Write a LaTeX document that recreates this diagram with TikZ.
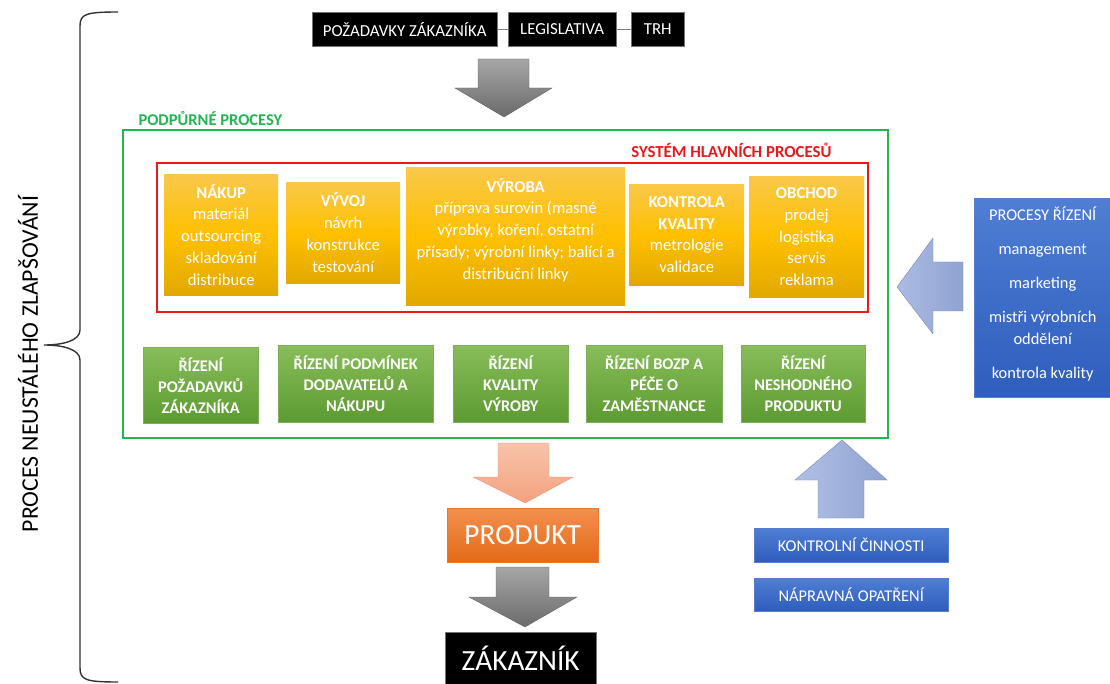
\documentclass[tikz,border=0pt]{standalone}
\usepackage{fontspec}
\setmainfont{Carlito}
\usetikzlibrary{calc}
\definecolor{yelT}{HTML}{F9C84A}
\definecolor{yelM}{HTML}{FFC000}
\definecolor{yelB}{HTML}{E2A800}
\definecolor{grnT}{HTML}{88BD59}
\definecolor{grnB}{HTML}{5C9A31}
\definecolor{bluT}{HTML}{4F7ED4}
\definecolor{bluB}{HTML}{2E5DBD}
\definecolor{orgT}{HTML}{F3904F}
\definecolor{orgB}{HTML}{E46A17}
\definecolor{frameG}{HTML}{22B550}
\definecolor{frameR}{HTML}{E8191C}
\definecolor{ltblue}{HTML}{97ABDC}
\definecolor{ltorange}{HTML}{F4AA86}
\tikzset{
	box/.style={text=white, align=center, inner sep=2pt, anchor=north west},
	ybox/.style={box, top color=yelT, bottom color=yelB, middle color=yelM, font=\fontsize{16.6}{21.8}\selectfont},
	gbox/.style={box, draw=grnB!80, top color=grnT, bottom color=grnB, font=\bfseries\fontsize{16.3}{21}\selectfont},
	bbox/.style={box, draw=bluB!80, top color=bluT, bottom color=bluB, font=\fontsize{16.4}{22}\selectfont},
	kbox/.style={box, draw=black!55, fill=black, font=\fontsize{16.8}{18}\selectfont},
}
\begin{document}
\begin{tikzpicture}[x=1pt, y=-1pt]
			%%%%% START %%%%%
			\useasboundingbox (0,0) rectangle (1110,684);
			
			\draw[line width=1.4pt, black!80] (118,12) .. controls (86,12) and (80,14) .. (80,26) -- (80,330) .. controls (80,341) and (62,345) .. (44,345) .. controls (62,345) and (80,349) .. (80,360) -- (80,668) .. controls (80,680) and (86,682) .. (118,682);
			\node[rotate=90, font=\fontsize{23.8}{26}\selectfont] (kaizen) at (28,364) {PROCES NEUSTÁLÉHO ZLAPŠOVÁNÍ};
			
			\node[kbox, minimum width=185pt, minimum height=34pt] (pozad) at (312,12) {POŽADAVKY ZÁKAZNÍKA};
			\node[kbox, minimum width=108pt, minimum height=34pt] (legis) at (508,12) {LEGISLATIVA};
			\node[kbox, minimum width=53pt, minimum height=34pt] (trh) at (631,12) {TRH};
			\draw[black!50] (pozad.east) -- (legis.west);
			\draw[black!50] (legis.east) -- (trh.west);
			
			\draw[draw=black!60, top color=black!35, bottom color=black!58] (478,59) -- (529,59) -- (529,88) -- (552,88) -- (504,117) -- (455,88) -- (478,88) -- cycle;
			
			\draw[frameG, line width=2pt] (123,130) rectangle (888,438);
			\node[anchor=west, text=frameG, font=\bfseries\fontsize{16.5}{18}\selectfont] (podpurne) at (135,118) {PODPŮRNÉ PROCESY};
			\draw[frameR, line width=2pt] (157,163) rectangle (868,312);
			\node[anchor=east, text=frameR, font=\bfseries\fontsize{16.8}{18}\selectfont] (hlavni) at (835,150) {SYSTÉM HLAVNÍCH PROCESŮ};
			
			\node[ybox, minimum width=114pt, minimum height=121pt] (nakup) at (164,174) {\textbf{NÁKUP}\\materiál\\outsourcing\\skladování\\distribuce};
			\node[ybox, minimum width=114pt, minimum height=101pt] (vyvoj) at (286,182) {\textbf{VÝVOJ}\\návrh\\konstrukce\\testování};
			\node[ybox, minimum width=219pt, minimum height=138pt] (vyroba) at (406,167) {\textbf{VÝROBA}\\příprava surovin (masné\\výrobky, koření, ostatní\\přísady; výrobní linky; balící a\\distribuční linky\\[-7pt]};
			\node[ybox, minimum width=115pt, minimum height=101pt] (kontrola) at (629,184) {\textbf{KONTROLA}\\\textbf{KVALITY}\\metrologie\\validace};
			\node[ybox, minimum width=115pt, minimum height=121pt] (obchod) at (749,176) {\textbf{OBCHOD}\\prodej\\logistika\\servis\\reklama};
			
			\node[gbox, minimum width=115pt, minimum height=76pt] (rzak) at (143,347) {ŘÍZENÍ\\POŽADAVKŮ\\ZÁKAZNÍKA};
			\node[gbox, minimum width=155pt, minimum height=77pt] (rdod) at (278,345) {ŘÍZENÍ PODMÍNEK\\DODAVATELŮ A\\NÁKUPU};
			\node[gbox, minimum width=115pt, minimum height=77pt] (rkval) at (453,345) {ŘÍZENÍ\\KVALITY\\VÝROBY};
			\node[gbox, minimum width=136pt, minimum height=77pt] (rbozp) at (586,345) {ŘÍZENÍ BOZP A\\PÉČE O\\ZAMĚSTNANCE};
			\node[gbox, minimum width=124pt, minimum height=77pt] (rnesh) at (741,345) {ŘÍZENÍ\\NESHODNÉHO\\PRODUKTU};
			
			\node[bbox, minimum width=137pt, minimum height=199pt] (rizeni) at (974,198) {PROCESY ŘÍZENÍ\\[12pt]management\\[12pt]marketing\\[12pt]mistři výrobních\\oddělení\\[12pt]kontrola kvality\\[-12pt]};
			\draw[draw=ltblue!80!black, left color=ltblue!80, right color=ltblue!95!black] (963,262) -- (963,311) -- (933,311) -- (933,334) -- (897,287) -- (933,238) -- (933,262) -- cycle;
			
			\draw[draw=ltorange!90!black, top color=ltorange!70, bottom color=ltorange!95!red] (498,443) -- (549,443) -- (549,477) -- (573,477) -- (525,503) -- (473,477) -- (498,477) -- cycle;
			\node[box, draw=orgB!90, top color=orgT, bottom color=orgB, minimum width=151pt, minimum height=54pt, font=\fontsize{29.3}{31}\selectfont] (produkt) at (447,508) {PRODUKT};
			\draw[draw=black!60, top color=black!35, bottom color=black!58] (496,567) -- (549,567) -- (549,597) -- (577,597) -- (525,627) -- (469,597) -- (496,597) -- cycle;
			\node[kbox, minimum width=151pt, minimum height=52pt, font=\fontsize{29.3}{31}\selectfont] (zakaznik) at (445,632) {ZÁKAZNÍK};
			
			\draw[draw=ltblue!80!black, left color=ltblue!75, right color=ltblue!95!black] (818,518) -- (864,518) -- (864,480) -- (887,480) -- (842,440) -- (795,480) -- (818,480) -- cycle;
			\node[bbox, minimum width=194pt, minimum height=34pt] (kontrolni) at (754,528) {KONTROLNÍ ČINNOSTI};
			\node[bbox, minimum width=194pt, minimum height=33pt] (napravna) at (754,578) {NÁPRAVNÁ OPATŘENÍ};
			%%%%% END %%%%%
\end{tikzpicture}
\end{document}
